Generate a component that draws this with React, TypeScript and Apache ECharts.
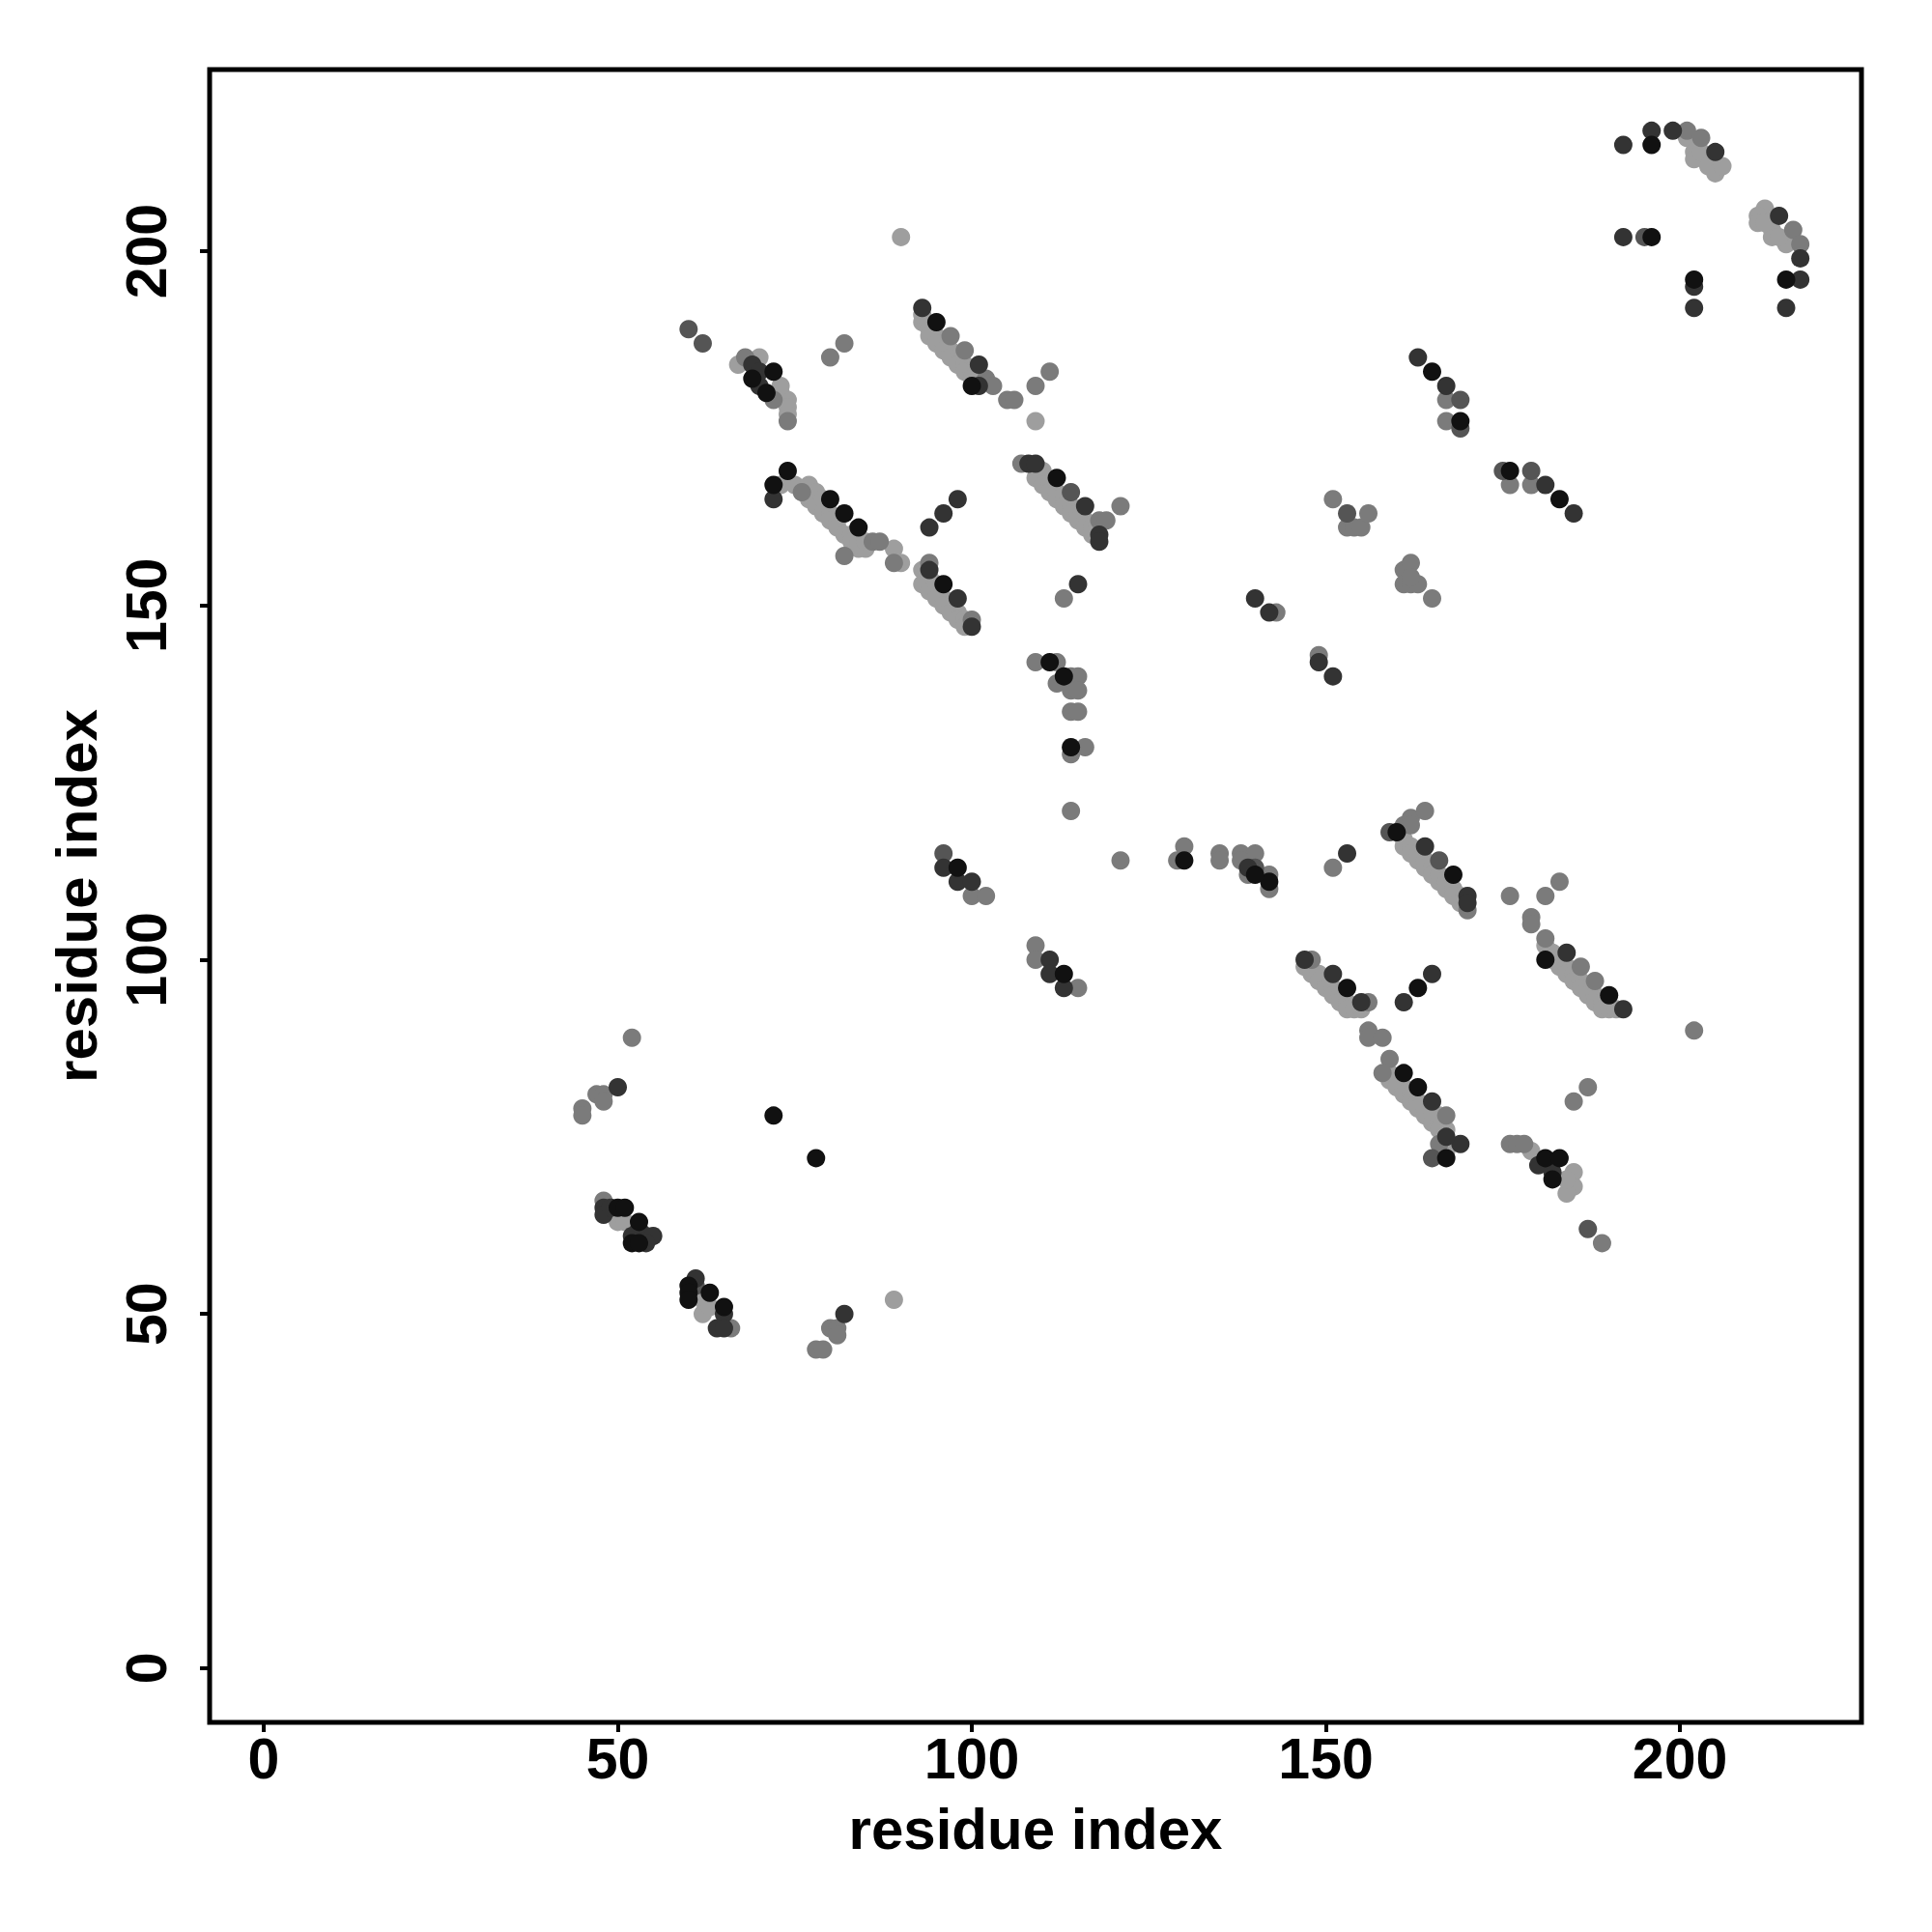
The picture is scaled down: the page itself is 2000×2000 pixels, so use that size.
import React, { useEffect, useRef } from "react";
import * as echarts from "echarts";

// Tick labels
const xTicks = [0, 50, 100, 150, 200];
const yTicks = [0, 50, 100, 150, 200];
const axisMin = -7.64;
const axisMax = 225.64;

// Contacts grouped by grey shade: [residue i, residue j]
const blackPts = [
  [196, 215], [196, 202], [202, 196], [215, 196],
  [165, 183], [169, 176], [176, 169], [183, 165],
  [69, 182], [72, 183], [71, 180],
  [95, 190], [100, 181],
  [74, 169], [72, 167], [80, 165], [82, 163], [84, 161],
  [96, 153], [112, 168],
  [111, 142], [113, 140], [114, 130],
  [98, 113], [113, 98],
  [130, 114], [142, 111], [140, 112],
  [160, 118], [168, 112],
  [181, 100], [190, 95],
  [153, 96], [163, 96], [161, 84], [163, 82], [167, 72],
  [181, 72], [183, 72], [182, 69],
  [50, 65], [51, 65], [53, 63], [52, 60], [53, 60], [60, 54], [60, 53], [60, 52], [63, 53], [65, 51],
  [72, 78], [78, 72],
];

const darkPts = [
  [192, 215], [196, 217], [199, 217], [205, 214], [192, 202], [202, 195], [202, 192],
  [214, 205], [217, 199], [217, 196], [215, 192],
  [163, 185], [167, 181], [181, 167], [185, 163],
  [69, 184], [70, 181], [70, 183],
  [93, 192], [101, 184], [101, 181],
  [72, 165],
  [94, 161], [96, 163], [98, 165], [98, 151], [100, 147], [94, 155],
  [108, 170], [109, 170], [116, 164], [118, 160], [118, 159],
  [115, 153],
  [140, 151], [142, 149], [149, 142], [151, 140],
  [96, 113], [98, 111], [100, 111], [111, 100], [111, 98], [113, 96],
  [139, 113], [153, 115],
  [164, 116], [170, 109], [170, 108],
  [184, 101], [192, 93],
  [147, 100], [151, 98], [155, 94], [161, 94], [165, 98], [165, 80], [169, 74], [167, 75],
  [180, 71], [182, 70],
  [50, 82], [48, 65], [48, 64], [49, 65], [53, 62], [54, 61], [55, 61], [54, 60], [52, 61],
  [61, 55], [65, 50], [64, 48], [65, 48], [82, 50],
];

const midPts = [
  [195, 202],
  [169, 179], [169, 175], [175, 169], [179, 169],
  [60, 189], [62, 187],
  [114, 166], [153, 163],
  [96, 115], [140, 113],
  [159, 118], [166, 114],
  [165, 72], [187, 62], [61, 54],
];

const greyPts = [
  [201, 217], [203, 216], [216, 203], [217, 201],
  [167, 179], [167, 176], [176, 167], [179, 167],
  [68, 185], [74, 176], [72, 179], [80, 185], [82, 187],
  [97, 188], [99, 186], [102, 182], [103, 181], [105, 179], [106, 179], [109, 181], [111, 183],
  [76, 166], [86, 159], [87, 159], [89, 156], [82, 157],
  [94, 156], [100, 148],
  [107, 170], [121, 164], [118, 162], [119, 162],
  [109, 142], [112, 142], [112, 139], [114, 140], [115, 140], [114, 138], [115, 138],
  [114, 135], [115, 135], [116, 130], [114, 129], [114, 121], [113, 151],
  [143, 149], [149, 143], [151, 165], [153, 161], [154, 161], [155, 161], [156, 163],
  [161, 155], [162, 156], [161, 153], [162, 153], [163, 153], [165, 151], [162, 154],
  [100, 109], [102, 109], [109, 102], [109, 100], [115, 96],
  [121, 114], [129, 114], [130, 116], [135, 115], [135, 114], [138, 115], [140, 115],
  [138, 114], [139, 112], [142, 112], [142, 110], [151, 113],
  [161, 119], [162, 120], [164, 121], [162, 119], [170, 107],
  [176, 109], [181, 109], [183, 111], [179, 106], [179, 105], [181, 103], [186, 99], [188, 97], [202, 90],
  [148, 100], [156, 94], [156, 90], [156, 89], [158, 89], [159, 86], [158, 84], [166, 74], [167, 78],
  [176, 74], [177, 74], [178, 74], [185, 80], [187, 82], [189, 60],
  [52, 89], [47, 81], [48, 81], [48, 80], [45, 79], [45, 78], [48, 66], [66, 48],
  [80, 48], [81, 48], [81, 47], [78, 45], [79, 45],
];

const lightPts = [
  [90, 202],
  [201, 216], [202, 214], [202, 213], [203, 214], [204, 213], [204, 212], [205, 211], [206, 212],
  [212, 206], [211, 205], [211, 204], [213, 203], [213, 202], [215, 201], [212, 204], [214, 202],
  [67, 184], [70, 185], [73, 180], [74, 179], [74, 178], [73, 181], [74, 177],
  [93, 190], [94, 189], [94, 188], [95, 188], [95, 187], [96, 187], [96, 186], [97, 186], [97, 185],
  [98, 185], [98, 184], [99, 184], [99, 183], [100, 183], [100, 182], [101, 182], [93, 191], [109, 176],
  [73, 167], [75, 167], [77, 167], [77, 165], [78, 166], [78, 164], [79, 165], [79, 163], [80, 163],
  [80, 162], [81, 162], [81, 161], [82, 160], [83, 160], [83, 159], [84, 159], [84, 158], [85, 158],
  [85, 159], [89, 158], [90, 156],
  [93, 155], [93, 153], [94, 154], [94, 152], [95, 153], [95, 152], [95, 151], [96, 151], [96, 150],
  [97, 150], [97, 149], [98, 149], [98, 148], [99, 148], [99, 147],
  [110, 169], [109, 168], [110, 167], [111, 167], [111, 166], [112, 166], [112, 165], [113, 165],
  [113, 164], [114, 164], [114, 163], [115, 163], [115, 162], [116, 162], [116, 161], [117, 161], [117, 160],
  [161, 117], [161, 116], [162, 116], [162, 115], [163, 115], [163, 114], [164, 114], [164, 113],
  [165, 113], [165, 112], [166, 112], [166, 111], [167, 111], [167, 110], [168, 110], [168, 109],
  [169, 109], [169, 108],
  [181, 102], [182, 101], [182, 100], [183, 100], [183, 99], [184, 99], [184, 98], [185, 98], [185, 97],
  [186, 97], [186, 96], [187, 96], [187, 95], [188, 95], [188, 94], [189, 94], [189, 93], [190, 93], [191, 93],
  [147, 99], [148, 98], [149, 98], [149, 97], [150, 97], [150, 96], [151, 96], [151, 95], [152, 95],
  [152, 94], [153, 94], [153, 93], [154, 93], [155, 93],
  [159, 84], [159, 83], [160, 83], [160, 82], [161, 82], [161, 81], [162, 81], [162, 80], [163, 80],
  [163, 79], [164, 79], [164, 78], [165, 78], [165, 77], [166, 77], [166, 76], [167, 76], [167, 73], [166, 78],
  [179, 73], [185, 70], [185, 68], [184, 67], [184, 69],
  [50, 63], [51, 63], [62, 52], [62, 50], [63, 51], [89, 52],
];

const shadeGroups = [
  { name: "light", color: "#9e9e9e", data: lightPts },
  { name: "grey", color: "#7b7b7b", data: greyPts },
  { name: "mid", color: "#555555", data: midPts },
  { name: "dark", color: "#333333", data: darkPts },
  { name: "black", color: "#111111", data: blackPts },
];

const FONT = "'Liberation Sans', Arial, Helvetica, sans-serif";

export default function App() {
  const ref = useRef<HTMLDivElement>(null);
  useEffect(() => {
    if (!ref.current) return;
    const chart = echarts.init(ref.current, null, { renderer: "svg" });
    const labelStyle = {
      fontSize: 59,
      fontWeight: "bold" as const,
      fontFamily: FONT,
      color: "#000",
    };
    chart.setOption({
      animation: false,
      backgroundColor: "#fff",
      grid: {
        left: 217,
        right: 73,
        top: 72,
        bottom: 217,
        show: true,
        borderColor: "#000",
        borderWidth: 5,
        backgroundColor: "transparent",
      },
      xAxis: {
        type: "value",
        min: axisMin,
        max: axisMax,
        position: "bottom",
        axisLine: { show: false, onZero: false },
        splitLine: { show: false },
        axisTick: {
          show: true,
          inside: false,
          length: 10,
          lineStyle: { color: "#000", width: 4 },
          customValues: xTicks,
        },
        axisLabel: { ...labelStyle, margin: 8, customValues: xTicks },
        name: "residue index",
        nameLocation: "middle",
        nameGap: 80,
        nameTextStyle: { ...labelStyle, fontSize: 60 },
      },
      yAxis: {
        type: "value",
        min: axisMin,
        max: axisMax,
        position: "left",
        axisLine: { show: false, onZero: false },
        splitLine: { show: false },
        axisTick: {
          show: true,
          inside: false,
          length: 10,
          lineStyle: { color: "#000", width: 4 },
          customValues: yTicks,
        },
        axisLabel: { ...labelStyle, margin: 36, rotate: 90, customValues: yTicks },
        name: "residue index",
        nameLocation: "middle",
        nameGap: 108,
        nameTextStyle: { ...labelStyle, fontSize: 60 },
      },
      series: shadeGroups.map((g) => ({
        type: "scatter",
        name: g.name,
        data: g.data,
        symbol: "circle",
        symbolSize: 19,
        silent: true,
        itemStyle: { color: g.color, opacity: 1 },
      })),
    });
    return () => chart.dispose();
  }, []);
  return (
    <div
      ref={ref}
      style={{ position: "absolute", left: 0, top: 0, width: 2000, height: 2000 }}
    />
  );
}
